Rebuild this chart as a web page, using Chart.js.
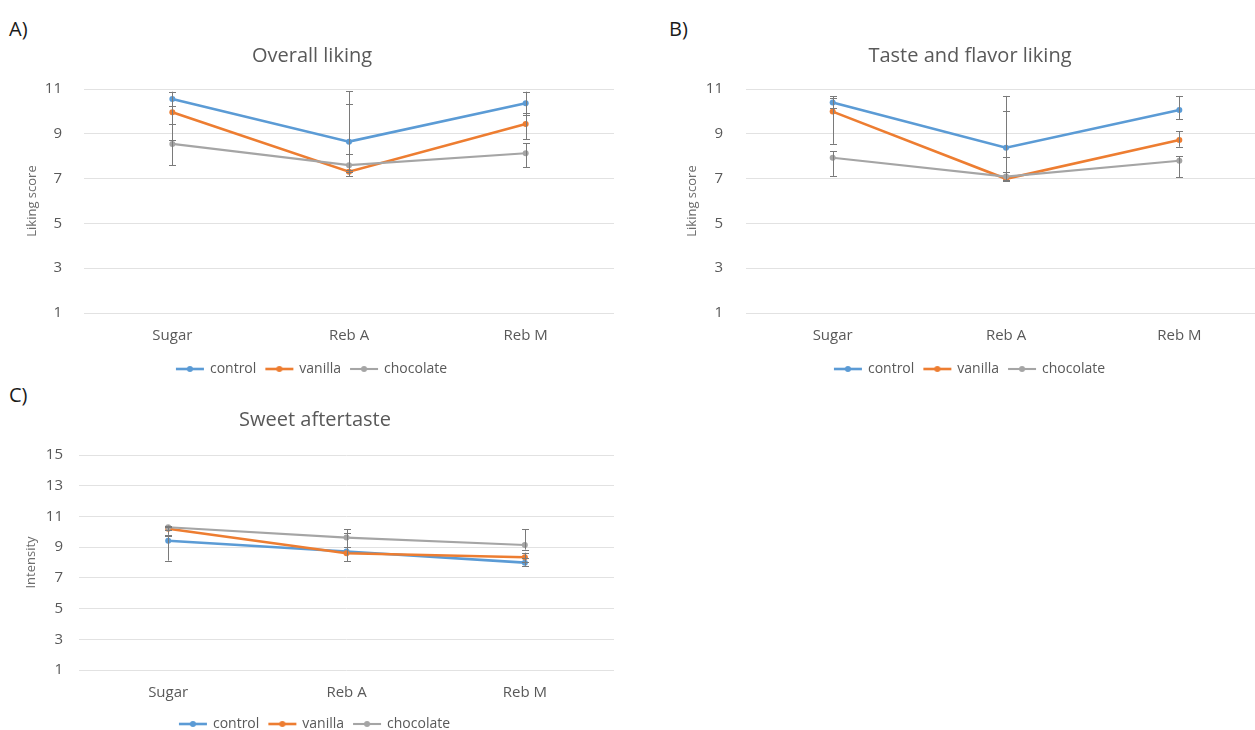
<!DOCTYPE html>
<html>
<head>
<meta charset="utf-8">
<script src="https://cdn.jsdelivr.net/npm/chart.js@4.4.0/dist/chart.umd.min.js"></script>
<style>
  html, body { margin: 0; padding: 0; background: #ffffff; width: 1255px; height: 730px; overflow: hidden; position: relative; }
  canvas { position: absolute; }
  .tag { position: absolute; font-family: "Open Sans", "Noto Sans", sans-serif; font-size: 20px; color: #1a1a1a; line-height: 26px; }
</style>
</head>
<body>
<div class="tag" style="left:9px; top:16px;">A)</div>
<div class="tag" style="left:669px; top:16px;">B)</div>
<div class="tag" style="left:9px; top:382px;">C)</div>
<canvas id="chartA" width="624" height="386" style="left:0px; top:0px;"></canvas>
<canvas id="chartB" width="616" height="386" style="left:660px; top:0px;"></canvas>
<canvas id="chartC" width="624" height="346" style="left:0px; top:395px;"></canvas>
<script>
// Sweetener conditions on the x axis
const categories = ['Sugar', 'Reb A', 'Reb M'];
const seriesNames = ['control', 'vanilla', 'chocolate'];

// A) Overall liking (means, error bar extents above / below)
const overallControl = [10.55, 8.65, 10.36];
const overallVanilla = [9.96, 7.31, 9.44];
const overallChocolate = [8.55, 7.60, 8.13];
const overallControlErrUp = [0.33, 2.25, 0.52];
const overallControlErrDown = [0.33, 1.25, 0.50];
const overallVanillaErrUp = [0.90, 3.00, 0.50];
const overallVanillaErrDown = [1.24, 0.20, 0.69];
const overallChocolateErrUp = [0.90, 0.50, 0.45];
const overallChocolateErrDown = [0.95, 0.30, 0.63];

// B) Taste and flavor liking
const tasteControl = [10.40, 8.38, 10.06];
const tasteVanilla = [9.99, 6.99, 8.72];
const tasteChocolate = [7.93, 7.09, 7.80];
const tasteControlErrUp = [0.27, 2.31, 0.63];
const tasteControlErrDown = [0.27, 0.40, 0.40];
const tasteVanillaErrUp = [0.60, 3.04, 0.40];
const tasteVanillaErrDown = [1.44, 0.10, 0.30];
const tasteChocolateErrUp = [0.30, 0.20, 0.20];
const tasteChocolateErrDown = [0.81, 0.14, 0.74];

// C) Sweet aftertaste intensity
const aftertasteControl = [9.42, 8.72, 7.99];
const aftertasteVanilla = [10.20, 8.60, 8.34];
const aftertasteChocolate = [10.30, 9.62, 9.14];
const aftertasteControlErrUp = [0.30, 1.22, 0.30];
const aftertasteControlErrDown = [1.30, 0.60, 0.20];
const aftertasteVanillaErrUp = [0.10, 0.39, 0.30];
const aftertasteVanillaErrDown = [0.40, 0.50, 0.30];
const aftertasteChocolateErrUp = [0.10, 0.54, 1.02];
const aftertasteChocolateErrDown = [0.20, 0.60, 0.30];

// Axis tick values
const likingTicks = [1, 3, 5, 7, 9, 11];
const intensityTicks = [1, 3, 5, 7, 9, 11, 13, 15];

const COLORS = ['#5B9BD5', '#ED7D31', '#A5A5A5'];
const LINE_WIDTHS = [2.6, 2.6, 2.1];
const FONT = '"Open Sans", "Noto Sans", sans-serif';
const TEXT = '#595959';

// Legend symbol: short line with a marker in the middle
function legendSymbol(color, width) {
  const c = document.createElement('canvas');
  c.width = 34; c.height = 12;
  const g = c.getContext('2d');
  g.strokeStyle = color; g.lineWidth = width;
  g.beginPath(); g.moveTo(3, 6); g.lineTo(31, 6); g.stroke();
  g.fillStyle = color;
  g.beginPath(); g.arc(17, 6, 3, 0, Math.PI * 2); g.fill();
  return c;
}
const symbols = COLORS.map((c, i) => legendSymbol(c, LINE_WIDTHS[i]));

// Error bars drawn from each dataset's errUp / errDown arrays
const errorBars = {
  id: 'errorBars',
  afterDatasetsDraw(chart) {
    const ctx = chart.ctx;
    const y = chart.scales.y;
    const area = chart.chartArea;
    ctx.save();
    ctx.beginPath();
    ctx.rect(area.left, area.top - 1, area.right - area.left, area.bottom - area.top + 2);
    ctx.clip();
    ctx.strokeStyle = '#7a7a7a';
    ctx.lineWidth = 1;
    chart.data.datasets.forEach((ds, di) => {
      const meta = chart.getDatasetMeta(di);
      meta.data.forEach((pt, i) => {
        const v = ds.data[i];
        const top = y.getPixelForValue(v + ds.errUp[i]);
        const bot = y.getPixelForValue(v - ds.errDown[i]);
        const x = Math.round(pt.x) + 0.5;
        ctx.beginPath();
        ctx.moveTo(x, top); ctx.lineTo(x, bot);
        ctx.moveTo(x - 3.5, Math.round(top) + 0.5); ctx.lineTo(x + 3.5, Math.round(top) + 0.5);
        ctx.moveTo(x - 3.5, Math.round(bot) + 0.5); ctx.lineTo(x + 3.5, Math.round(bot) + 0.5);
        ctx.stroke();
      });
    });
    ctx.restore();
  }
};

function makeDataset(i, values, up, down) {
  return {
    label: seriesNames[i],
    data: values,
    errUp: up,
    errDown: down,
    borderColor: COLORS[i],
    backgroundColor: COLORS[i],
    borderWidth: LINE_WIDTHS[i],
    pointRadius: 3,
    pointBorderWidth: 0,
    pointBackgroundColor: COLORS[i],
    tension: 0,
    order: 3 - i
  };
}

function makeChart(id, p) {
  new Chart(document.getElementById(id), {
    type: 'line',
    data: { labels: categories, datasets: p.datasets },
    plugins: [errorBars],
    options: {
      responsive: false,
      animation: false,
      devicePixelRatio: 1,
      layout: { padding: { left: p.padLeft, right: p.padRight, top: 0, bottom: 0 } },
      plugins: {
        tooltip: { enabled: false },
        title: {
          display: true,
          text: p.title,
          color: TEXT,
          font: { family: FONT, size: 20, weight: 'normal' },
          padding: { top: p.titleTop, bottom: p.titleBottom }
        },
        legend: {
          position: 'bottom',
          labels: {
            color: TEXT,
            font: { family: FONT, size: 14 },
            usePointStyle: true,
            pointStyleWidth: 26,
            padding: 10,
            sort: (a, b) => a.datasetIndex - b.datasetIndex,
            generateLabels(chart) {
              const items = Chart.defaults.plugins.legend.labels.generateLabels(chart);
              items.forEach(it => { it.pointStyle = symbols[it.datasetIndex]; });
              return items;
            }
          }
        }
      },
      scales: {
        x: {
          offset: true,
          grid: { display: false, drawTicks: false },
          border: { display: false },
          ticks: { color: TEXT, font: { family: FONT, size: 15 }, padding: p.xTickPad, maxRotation: 0 },
          afterFit(scale) { scale.height = p.xHeight; }
        },
        y: {
          min: p.ticks[0],
          max: p.ticks[p.ticks.length - 1],
          afterBuildTicks(scale) { scale.ticks = p.ticks.map(v => ({ value: v })); },
          grid: { color: '#e2e2e2', lineWidth: 1, drawTicks: false },
          border: { display: false },
          ticks: { color: TEXT, font: { family: FONT, size: 15 }, padding: p.yTickPad },
          title: {
            display: true,
            text: p.yTitle,
            color: '#6e6e6e',
            font: { family: FONT, size: 13 },
            padding: { top: p.yTitlePad, bottom: 0 }
          },
          afterFit(scale) { scale.width = p.yWidth; }
        }
      }
    }
  });
}

makeChart('chartA', {
  title: 'Overall liking',
  yTitle: 'Liking score',
  ticks: likingTicks,
  datasets: [
    makeDataset(0, overallControl, overallControlErrUp, overallControlErrDown),
    makeDataset(1, overallVanilla, overallVanillaErrUp, overallVanillaErrDown),
    makeDataset(2, overallChocolate, overallChocolateErrUp, overallChocolateErrDown)
  ],
  padLeft: 10, padRight: 10, yWidth: 74, yTickPad: 22, yTitlePad: 14,
  titleTop: 44, titleBottom: 21, xHeight: 39, xTickPad: 14
});

makeChart('chartB', {
  title: 'Taste and flavor liking',
  yTitle: 'Liking score',
  ticks: likingTicks,
  datasets: [
    makeDataset(0, tasteControl, tasteControlErrUp, tasteControlErrDown),
    makeDataset(1, tasteVanilla, tasteVanillaErrUp, tasteVanillaErrDown),
    makeDataset(2, tasteChocolate, tasteChocolateErrUp, tasteChocolateErrDown)
  ],
  padLeft: 14, padRight: 10, yWidth: 72, yTickPad: 23, yTitlePad: 10,
  titleTop: 44, titleBottom: 21, xHeight: 39, xTickPad: 14
});

makeChart('chartC', {
  title: 'Sweet aftertaste',
  yTitle: 'Intensity',
  ticks: intensityTicks,
  datasets: [
    makeDataset(0, aftertasteControl, aftertasteControlErrUp, aftertasteControlErrDown),
    makeDataset(1, aftertasteVanilla, aftertasteVanillaErrUp, aftertasteVanillaErrDown),
    makeDataset(2, aftertasteChocolate, aftertasteChocolateErrUp, aftertasteChocolateErrDown)
  ],
  padLeft: 16, padRight: 10, yWidth: 63, yTickPad: 16, yTitlePad: 7,
  titleTop: 13, titleBottom: 23, xHeight: 37, xTickPad: 14
});
</script>
</body>
</html>
